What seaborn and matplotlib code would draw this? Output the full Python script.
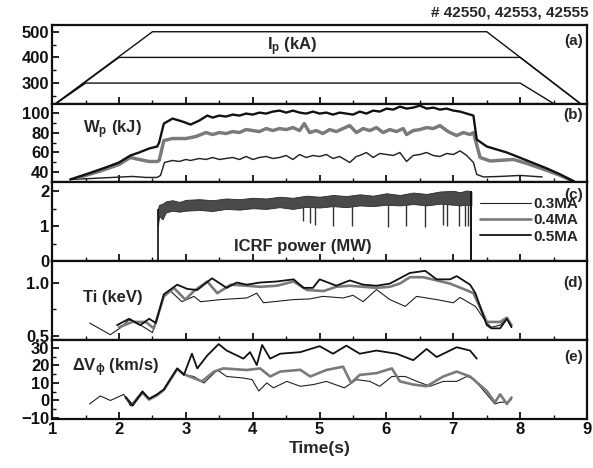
import numpy as np
import matplotlib
matplotlib.use('Agg')
import matplotlib.pyplot as plt
from matplotlib.lines import Line2D
from matplotlib.ticker import MultipleLocator
import seaborn as sns

sns.set_style('ticks')
plt.rcParams['font.family'] = ['Liberation Sans', 'DejaVu Sans']
plt.rcParams['font.weight'] = 'bold'
plt.rcParams['mathtext.fontset'] = 'custom'
plt.rcParams['mathtext.rm'] = 'Liberation Sans:bold'
plt.rcParams['mathtext.it'] = 'Liberation Sans:bold'
plt.rcParams['mathtext.bf'] = 'Liberation Sans:bold'

labels = ['0.3MA', '0.4MA', '0.5MA']
colors = ['#222222', '#7a7a7a', '#111111']
widths = [0.8, 1.9, 1.3]

# (a) plasma current, kA
ip_t = {
    '0.3MA': [1.0, 1.5, 8.0, 8.5],
    '0.4MA': [1.0, 2.0, 8.0, 8.9],
    '0.5MA': [1.0, 2.5, 7.5, 8.9],
}
ip_v = {
    '0.3MA': [210, 300, 300, 220],
    '0.4MA': [210, 400, 400, 220],
    '0.5MA': [210, 500, 500, 220],
}

# (b) stored energy, kJ
wp_t = {
    '0.3MA': [1.27, 1.6, 1.9, 2.2, 2.4, 2.57, 2.62, 2.68, 2.8, 2.9, 3.0, 3.07, 3.2, 3.3, 3.4,
              3.5, 3.6, 3.7, 3.8, 3.9, 4.0, 4.1, 4.2, 4.3, 4.4, 4.5, 4.6, 4.7, 4.8, 4.9,
              5.0, 5.1, 5.2, 5.3, 5.45, 5.55, 5.6, 5.7, 5.8, 5.9, 6.0, 6.1, 6.2, 6.3, 6.4,
              6.5, 6.6, 6.7, 6.8, 6.9, 7.0, 7.1, 7.2, 7.3, 7.35, 7.45, 7.7, 8.0, 8.33],
    '0.4MA': [1.4, 1.7, 2.0, 2.17, 2.3, 2.45, 2.57, 2.6, 2.67, 2.8, 3.0, 3.15, 3.3, 3.4, 3.5,
              3.6, 3.7, 3.8, 3.9, 4.0, 4.1, 4.2, 4.3, 4.4, 4.5, 4.6, 4.7, 4.77, 4.85, 4.95,
              5.05, 5.15, 5.25, 5.35, 5.45, 5.55, 5.65, 5.75, 5.85, 5.95, 6.05, 6.15, 6.25, 6.3,
              6.4, 6.5, 6.6, 6.7, 6.8, 6.9, 6.95, 7.05, 7.15, 7.25, 7.3, 7.4, 7.55, 7.9, 8.1,
              8.4, 8.6, 8.8],
    '0.5MA': [1.27, 1.5, 1.8, 2.0, 2.17, 2.3, 2.45, 2.57, 2.6, 2.67, 2.8, 2.95, 3.07, 3.2, 3.32,
              3.4, 3.5, 3.6, 3.7, 3.8, 3.9, 4.0, 4.1, 4.2, 4.3, 4.4, 4.5, 4.6, 4.7, 4.8,
              4.9, 5.0, 5.1, 5.2, 5.3, 5.4, 5.5, 5.6, 5.7, 5.8, 5.9, 6.0, 6.1, 6.2, 6.3,
              6.4, 6.5, 6.6, 6.7, 6.8, 6.9, 7.0, 7.1, 7.2, 7.3, 7.35, 7.5, 7.8, 8.1, 8.4,
              8.6, 8.8],
}
wp_v = {
    '0.3MA': [33, 34, 35, 36, 35, 35, 37, 50, 52, 51, 53, 52, 54, 53, 55,
              53, 54, 55, 53, 56, 53, 55, 56, 54, 55, 57, 53, 58, 55, 57,
              56, 58, 54, 56, 50, 56, 57, 60, 55, 59, 58, 57, 60, 51, 57,
              58, 60, 57, 56, 59, 58, 61.6, 57, 50, 38, 35.5, 36, 37, 35.5],
    '0.4MA': [35, 41, 48, 55, 53, 51, 51, 52, 72, 74, 74, 76, 80, 78, 80,
              79, 81, 80, 83, 82, 81, 84, 82, 84, 83, 85, 82, 89, 80, 82,
              79, 83, 81, 84, 87, 80, 84, 82, 85, 80, 83, 81, 84, 78,
              82, 83, 85, 84, 87, 82, 80, 77, 80, 78, 80, 55, 51.5, 53, 49,
              42, 37, 31],
    '0.5MA': [33, 38, 45, 50, 57, 60, 64, 66, 70, 89, 94, 91, 88, 92, 97,
              95, 97, 96, 98, 97, 99, 98, 100, 99, 101, 102, 100, 102, 100, 99,
              101, 99, 100, 98, 100, 99, 98, 101, 99, 102, 101, 104, 103, 106, 104,
              105, 107, 104, 105, 103, 104, 102, 101, 99, 97, 73, 66, 60, 52, 44,
              38, 31],
}

# (c) ICRF power, MW: band envelope and drop-outs
rf_t = [2.58, 2.6, 2.65, 2.7, 2.8, 2.9, 3.0, 3.2, 3.4, 3.6, 3.8, 4.0, 4.2, 4.4, 4.6,
        4.8, 5.0, 5.2, 5.4, 5.6, 5.8, 6.0, 6.2, 6.4, 6.6, 6.8, 7.0, 7.1, 7.2, 7.27]
rf_lo = [1.0, 1.3, 1.2, 1.4, 1.45, 1.42, 1.45, 1.47, 1.44, 1.5, 1.48, 1.52, 1.5, 1.55, 1.5,
         1.56, 1.54, 1.58, 1.55, 1.6, 1.58, 1.62, 1.6, 1.64, 1.6, 1.65, 1.62, 1.6, 1.62, 1.6]
rf_hi = [1.5, 1.62, 1.65, 1.72, 1.75, 1.7, 1.76, 1.78, 1.75, 1.8, 1.78, 1.82, 1.8, 1.85, 1.82,
         1.88, 1.85, 1.9, 1.87, 1.92, 1.88, 1.95, 1.9, 1.97, 1.93, 2.0, 2.02, 1.98, 2.03, 2.0]
spike_t = [4.75, 4.86, 4.93, 5.2, 5.49, 6.03, 6.29, 6.57, 6.85, 6.91, 7.08, 7.17, 7.22]
spike_min = [1.15, 1.1, 1.05, 1.0, 1.02, 0.98, 1.0, 0.98, 1.05, 1.0, 1.0, 1.02, 1.0]

# (d) ion temperature, keV
ti_t = {
    '0.3MA': [1.56, 1.87, 2.02, 2.15, 2.35, 2.5, 2.67, 2.77, 2.94, 3.12, 3.22, 3.52, 3.91, 4.06,
              4.16, 4.61, 4.85, 5.05, 5.35, 5.5, 5.65, 5.85, 6.05, 6.28, 6.45, 6.75, 7.0, 7.1,
              7.33, 7.5, 7.57, 7.7, 7.8, 7.87],
    '0.4MA': [2.0, 2.2, 2.4, 2.52, 2.67, 2.82, 2.99, 3.12, 3.32, 3.47, 3.67, 3.91, 4.11, 4.36,
              4.61, 4.81, 5.06, 5.25, 5.45, 5.65, 5.85, 6.05, 6.2, 6.35, 6.55, 6.75, 6.95, 7.15,
              7.3, 7.5, 7.7, 7.8, 7.87],
    '0.5MA': [1.97, 2.15, 2.32, 2.45, 2.55, 2.67, 2.87, 3.02, 3.17, 3.39, 3.61, 3.76, 3.91, 4.11,
              4.36, 4.61, 4.76, 4.9, 5.0, 5.25, 5.45, 5.65, 5.85, 6.05, 6.35, 6.58, 6.75, 6.95,
              7.05, 7.25, 7.33, 7.5, 7.57, 7.7, 7.8, 7.87],
}
ti_v = {
    '0.3MA': [0.62, 0.51, 0.575, 0.65, 0.59, 0.53, 0.87, 0.92, 0.82, 0.87, 0.82, 0.84, 0.855, 0.9,
              0.81, 0.84, 0.846, 0.87, 0.855, 0.88, 0.82, 0.934, 0.84, 0.776, 0.87, 0.84, 0.81, 0.86,
              0.776, 0.62, 0.58, 0.60, 0.66, 0.59],
    '0.4MA': [0.58, 0.63, 0.63, 0.57, 0.87, 0.95, 0.84, 0.92, 1.01, 0.90, 0.98, 0.97, 0.96, 0.97,
              1.01, 0.93, 0.92, 0.96, 0.97, 0.96, 0.95, 0.96, 0.99, 1.05, 1.05, 1.02, 0.99, 0.94,
              0.90, 0.63, 0.63, 0.67, 0.60],
    '0.5MA': [0.6, 0.66, 0.6, 0.66, 0.62, 0.89, 0.98, 0.94, 0.93, 1.04, 0.95, 1.0, 0.98, 1.0,
              1.01, 1.03, 0.95, 0.95, 1.03, 0.97, 1.02, 0.98, 0.97, 0.99, 1.09, 1.11, 1.03, 1.03,
              1.06, 0.98, 0.9, 0.60, 0.57, 0.57, 0.66, 0.58],
}

# (e) rotation velocity change, km/s
dv_t = {
    '0.3MA': [1.56, 1.72, 1.87, 1.97, 2.07, 2.17, 2.35, 2.45, 2.57, 2.67, 2.87, 2.97, 3.12, 3.27,
              3.47, 3.61, 3.86, 3.99, 4.09, 4.21, 4.31, 4.51, 4.71, 4.91, 5.1, 5.37, 5.55, 5.75,
              5.9, 6.08, 6.28, 6.45, 6.65, 6.85, 7.05, 7.2, 7.3, 7.5, 7.62, 7.7, 7.8, 7.87],
    '0.4MA': [2.1, 2.2, 2.35, 2.45, 2.57, 2.67, 2.87, 2.97, 3.24, 3.42, 3.56, 3.91, 4.11, 4.26,
              4.41, 4.71, 4.86, 5.1, 5.35, 5.47, 5.6, 5.85, 6.08, 6.2, 6.4, 6.6, 6.85, 7.05,
              7.25, 7.5, 7.62, 7.7, 7.8, 7.87],
    '0.5MA': [2.1, 2.2, 2.35, 2.45, 2.57, 2.67, 2.87, 2.97, 3.09, 3.17, 3.32, 3.49, 3.61, 3.86,
              3.96, 4.06, 4.14, 4.26, 4.41, 4.71, 5.0, 5.2, 5.4, 5.6, 5.85, 6.15, 6.4, 6.6,
              6.75, 7.05, 7.25, 7.35],
}
dv_v = {
    '0.3MA': [-2, 2.6, 0, 1.7, 3.5, -3, 5.4, 0.7, 3.5, 6.3, 18.3, 14.6, 13.7, 10,
              17.4, 13.7, 12.8, 11.9, 5.4, 10, 7.2, 10.9, 8.1, 9.1, 10.9, 7.2, 11.9, 10.9,
              8.1, 13.7, 13.7, 11, 8.1, 10.9, 10.9, 13.7, 12.5, 3.5, -2, -1, -1, 0.5],
    '0.4MA': [1.5, -2.5, 4.5, 0.5, 3, 6, 18, 15, 10.9, 16.5, 18.3, 17.4, 18.3, 13.7,
              16.5, 17.5, 13.7, 17.4, 19.3, 10, 14.6, 15.6, 18.3, 10.9, 9.1, 8.1, 13.7, 16.5,
              13.7, 5.4, -1.1, 3.5, -2, 1.7],
    '0.5MA': [2, -3, 5, 1, 3.5, 6.3, 18.3, 14.6, 26.7, 18.3, 25.7, 32.2, 28.5, 23.9,
              27.6, 20.2, 31.7, 23.9, 26.7, 27.6, 31, 26.7, 31.3, 26.7, 28.5, 26.7, 23, 29.4,
              24.8, 30.4, 28.5, 23.9],
}

fig, axes = plt.subplots(5, 1, figsize=(5.93, 4.68), dpi=100, sharex=True)
fig.subplots_adjust(left=0.088, right=0.99, top=0.947, bottom=0.105, hspace=0)


def draw(ax, tt, vv, lw_scale=1.0):
    for lab, c, w in zip(labels, colors, widths):
        sns.lineplot(x=tt[lab], y=vv[lab], ax=ax, color=c, lw=w * lw_scale,
                     estimator=None, sort=False, legend=False)


ax_a, ax_b, ax_c, ax_d, ax_e = axes
for lab in labels:
    sns.lineplot(x=ip_t[lab], y=ip_v[lab], ax=ax_a, color='#111111', lw=1.0,
                 estimator=None, sort=False, legend=False)
draw(ax_b, wp_t, wp_v, lw_scale=1.3)
draw(ax_d, ti_t, ti_v)
draw(ax_e, dv_t, dv_v)

# ICRF power
ax_c.fill_between(rf_t, rf_lo, rf_hi, color='#4a4a4a', lw=0.6, edgecolor='#2a2a2a')
ax_c.vlines(spike_t, spike_min, np.interp(spike_t, rf_t, rf_lo), color='#333333', lw=1.0)
ax_c.vlines([rf_t[0]], 0, rf_hi[0], color='#111111', lw=1.2)
ax_c.vlines([rf_t[-1]], 0, rf_hi[-1], color='#111111', lw=1.4)
ax_c.plot([1.0, rf_t[0]], [0, 0], color='#111111', lw=1.0)
ax_c.plot([rf_t[-1], 9.0], [0, 0], color='#111111', lw=1.0)

ax_a.set_ylim(220, 527)
ax_b.set_ylim(30, 109)
ax_c.set_ylim(0, 2.26)
ax_d.set_ylim(0.46, 1.2)
ax_e.set_ylim(-10.5, 34.5)
ax_e.set_xlim(1, 9)

ax_a.set_yticks([300, 400, 500])
ax_a.yaxis.set_minor_locator(MultipleLocator(50))
ax_b.set_yticks([40, 60, 80, 100])
ax_b.yaxis.set_minor_locator(MultipleLocator(10))
ax_c.set_yticks([0, 1, 2])
ax_c.yaxis.set_minor_locator(MultipleLocator(0.5))
ax_d.set_yticks([0.5, 1.0])
ax_d.set_yticklabels(['0.5', '1.0'])
ax_d.yaxis.set_minor_locator(MultipleLocator(0.25))
ax_e.set_yticks([-10, 0, 10, 20, 30])
ax_e.yaxis.set_minor_locator(MultipleLocator(5))
ax_e.set_xticks(range(1, 10))
ax_e.xaxis.set_minor_locator(MultipleLocator(0.5))

for ax in axes:
    for s in ax.spines.values():
        s.set_linewidth(1.6)
        s.set_color('#111111')
    ax.tick_params(which='major', direction='in', length=5, width=1.3, labelsize=12,
                   pad=2, top=False, right=False, colors='#111111')
    ax.tick_params(which='minor', direction='in', length=3, width=1.0,
                   top=False, right=False, colors='#111111')
    ax.set_ylabel('')
    for lbl in ax.get_yticklabels() + ax.get_xticklabels():
        lbl.set_fontweight('bold')

ax_e.set_xlabel('Time(s)', fontsize=12.5, fontweight='bold', labelpad=3)

txt = dict(fontsize=12, fontweight='bold', ha='center', va='center')
ax_a.text(4.59, 442, r'I$_{p}$ (kA)', **txt)
ax_b.text(1.9, 82.7, r'W$_{p}$ (kJ)', **txt)
ax_c.text(4.75, 0.43, 'ICRF power (MW)', **txt)
ax_d.text(1.9, 0.86, 'Ti (keV)', **txt)
ax_e.text(1.95, 18.9, r'ΔV$_{\phi}$ (km/s)', **txt)

for ax, letter, yy in zip(axes, 'abcde', [0.79, 0.85, 0.835, 0.73, 0.785]):
    ax.text(0.992, yy, '(' + letter + ')', transform=ax.transAxes, ha='right', va='center',
            fontsize=11, fontweight='bold')

handles = [Line2D([], [], color=c, lw=w) for c, w in zip(colors, widths)]
leg = ax_c.legend(handles, labels, loc='center left', bbox_to_anchor=(0.80, 0.52),
                  frameon=False, fontsize=11, handlelength=3.3, handletextpad=0.2,
                  labelspacing=0.15, borderpad=0, borderaxespad=0)
for t in leg.get_texts():
    t.set_fontweight('bold')

fig.text(0.992, 0.974, '# 42550, 42553, 42555', ha='right', va='center',
         fontsize=11, fontweight='bold')

fig.savefig('out.png', dpi=100, facecolor='white')
